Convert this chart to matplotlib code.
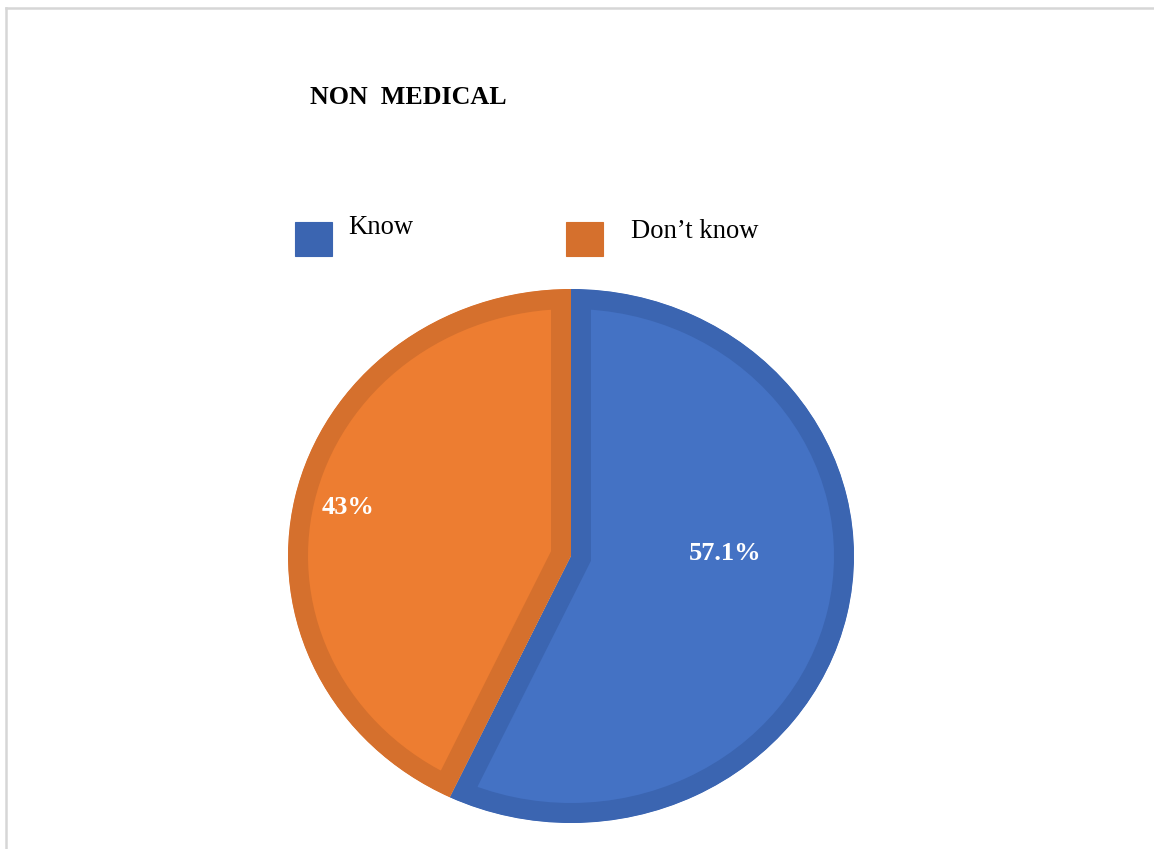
import matplotlib.pyplot as plt
from matplotlib.lines import Line2D
from matplotlib.patches import Rectangle

# Share of non medical respondents
categories = ["Know", "Don\u2019t know"]
shares = [57.1, 43]
fill_colors = ["#4472C4", "#ED7D31"]
edge_colors = ["#3B65B1", "#D5702D"]
title = "NON  MEDICAL"

W, H = 1154, 849
plt.rcParams["font.family"] = ["Liberation Serif", "DejaVu Serif"]

fig = plt.figure(figsize=(W / 100, H / 100), dpi=100)
fig.patch.set_facecolor("white")


def fx(px):
    return px / W


def fy(py):
    return 1 - py / H


# light page frame on top and left
fig.add_artist(Line2D([fx(6), 1.0], [fy(8), fy(8)], color="#d6d6d6", lw=1.8))
fig.add_artist(Line2D([fx(6), fx(6)], [fy(8), 0.0], color="#d6d6d6", lw=1.8))

# pie occupies a slightly wide ellipse
ax = fig.add_axes([fx(288), fy(823), (854 - 288) / W, (823 - 289) / H])
wedges, _ = ax.pie(
    shares,
    colors=fill_colors,
    startangle=90,
    counterclock=False,
    radius=1.0,
    wedgeprops=dict(linewidth=28.8),
)
# thick darker rim kept inside each slice
for w, ec in zip(wedges, edge_colors):
    w.set_edgecolor(ec)
    w.set_clip_on(True)
    w.set_clip_path(w)
ax.set_aspect("auto")
ax.set_xlim(-1, 1)
ax.set_ylim(-1, 1)
ax.axis("off")

# percentage labels inside the slices
label_pos = [(0.544, 0.01), (-0.788, 0.18)]
for v, (x, y) in zip(shares, label_pos):
    ax.text(x, y, f"{v:g}%", color="white", fontsize=19, fontweight="bold",
            ha="center", va="center")

fig.text(fx(310), fy(97), title, fontsize=18.7, fontweight="bold",
         ha="left", va="center", color="black")

# legend drawn as squares with labels
legend_boxes = [295, 566]
legend_text_x = [348, 631]
legend_text_y = [227, 232]
for bx, tx, ty, lab, ec in zip(legend_boxes, legend_text_x, legend_text_y,
                              categories, edge_colors):
    fig.add_artist(Rectangle((fx(bx), fy(256)), 37 / W, 34 / H,
                             transform=fig.transFigure, facecolor=ec,
                             edgecolor=ec, lw=0.8))
    fig.text(fx(tx), fy(ty), lab, fontsize=19.2, ha="left", va="center",
             color="black")

fig.savefig("out.png", dpi=100)
